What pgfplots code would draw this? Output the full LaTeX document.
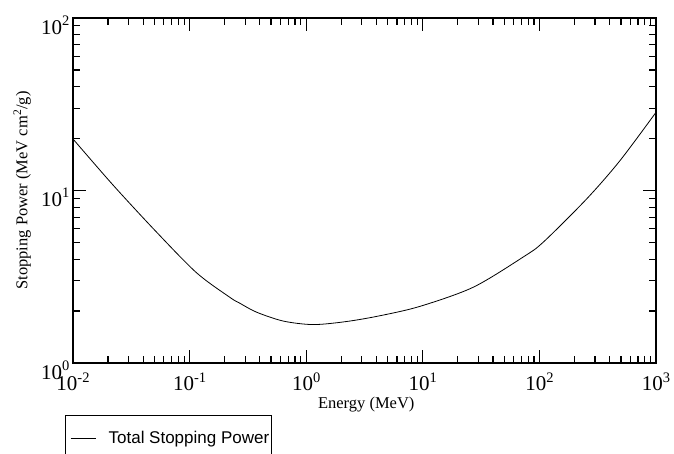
\documentclass[border=0pt]{standalone}
\usepackage{fontspec}
\setmainfont{Liberation Serif}
\newfontfamily\legfont{Liberation Sans}
\usepackage{pgfplots}
\pgfplotsset{compat=1.18}
\usetikzlibrary{calc}
\newcommand{\dec}[1]{10\raisebox{0.42em}{\fontsize{14.5}{15}\selectfont #1}}

\begin{document}
\begin{tikzpicture}
\begin{axis}[
  xmode=log, ymode=log,
  scale only axis,
  width=583pt, height=345pt,
  xmin=0.01, xmax=1000, ymin=1, ymax=100,
  xtick={0.01,0.1,1,10,100,1000},
  xticklabels={\dec{-2},\dec{-1},\dec{0},\dec{1},\dec{2},\dec{3}},
  ytick={1,10,100},
  yticklabels={\dec{0},\dec{1},\dec{2}},
  minor xtick={0.02,0.03,0.04,0.05,0.06,0.07,0.08,0.09,
               0.2,0.3,0.4,0.5,0.6,0.7,0.8,0.9,
               2,3,4,5,6,7,8,9,
               20,30,40,50,60,70,80,90,
               200,300,400,500,600,700,800,900},
  minor ytick={2,3,4,5,6,7,8,9,20,30,40,50,60,70,80,90},
  tick align=inside,
  major tick length=13pt, minor tick length=7pt,
  every tick/.style={black, line width=1.2pt},
  axis line style={line width=1.6pt},
  tick label style={font=\fontsize{21}{24}\selectfont},
  xticklabel style={yshift=-6pt},
  yticklabel style={yshift=-7pt},
  label style={font=\fontsize{16.5}{19}\selectfont},
  xlabel={Energy (MeV)},
  ylabel={Stopping Power (MeV cm\textsuperscript{2}/g)},
  xlabel style={at={(axis description cs:0.503,-0.12)}, anchor=center},
  ylabel style={at={(axis description cs:-0.087,0.5)}, anchor=center},
  legend style={at={(axis description cs:-0.0137,-0.1507)}, anchor=north west,
    draw=black, line width=1.2pt,
    font=\legfont\fontsize{17}{19}\selectfont,
    inner xsep=0pt, inner ysep=14pt},
  legend cell align=left,
  legend image code/.code={\draw[black, line width=0.8pt] (0pt,0pt) -- (25pt,0pt);
    \path[draw=none] (-5pt,0pt) -- (36pt,0pt);},
]
\addplot[black, line width=0.8pt, smooth] coordinates {
  (0.01,19.9) (0.0222,10.7) (0.0523,5.72) (0.115,3.33) (0.222,2.40)
  (0.270,2.22) (0.376,1.97) (0.637,1.75) (1.15,1.67) (2.22,1.74)
  (4.30,1.88) (9.46,2.13) (27.1,2.75) (72.8,4.12) (108,5.02)
  (254,8.93) (491,14.9) (1000,28.4)
};
\addlegendentry{Total Stopping Power}
\coordinate (bl) at (rel axis cs:0,0);
\coordinate (tr) at (rel axis cs:1,1);
\end{axis}
\pgfresetboundingbox
\path[use as bounding box] ($(bl)+(-73pt,-91pt)$) rectangle ($(tr)+(18pt,18pt)$);
\end{tikzpicture}
\end{document}
